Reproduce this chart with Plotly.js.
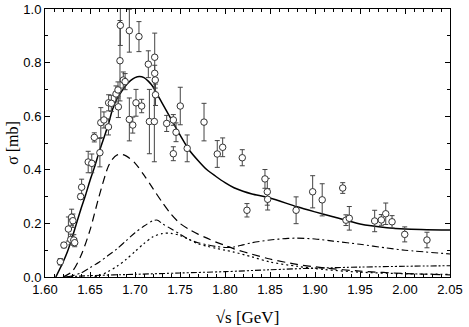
<!DOCTYPE html>
<html>
<head>
<meta charset="utf-8">
<script src="https://cdn.plot.ly/plotly-3.0.1.min.js"></script>
<style>html,body{margin:0;padding:0;background:#fff;}#chart{width:469px;height:327px;}</style>
</head>
<body>
<div id="chart"></div>
<script>
// Experimental data: sqrt(s) [GeV], sigma [mb], error [mb]
const dataE = [1.617,1.621,1.626,1.6286,1.6296,1.631,1.632,1.633,1.6396,1.6407,1.648,1.652,1.6548,1.661,1.662,1.6655,1.6705,1.6707,1.6737,1.6789,1.6811,1.6815,1.6833,1.6837,1.687,1.689,1.6937,1.6937,1.6975,1.7011,1.7044,1.7074,1.7148,1.716,1.7219,1.7219,1.7225,1.7228,1.7215,1.7352,1.7426,1.7426,1.7456,1.7503,1.758,1.7767,1.7914,1.7974,1.8192,1.8244,1.8444,1.847,1.8474,1.879,1.8974,1.908,1.9308,1.9344,1.9381,1.9663,1.9737,1.9786,1.9856,1.9997,2.0244];
const dataSigma = [0.057,0.119,0.179,0.14,0.223,0.21,0.138,0.128,0.30,0.335,0.429,0.424,0.521,0.464,0.576,0.586,0.56,0.65,0.648,0.683,0.698,0.635,0.807,0.939,0.735,0.729,0.919,0.588,0.567,0.65,0.897,0.638,0.794,0.58,0.82,0.76,0.735,0.68,0.58,0.573,0.586,0.46,0.54,0.638,0.48,0.578,0.459,0.484,0.445,0.249,0.366,0.318,0.29,0.249,0.318,0.288,0.332,0.212,0.219,0.209,0.213,0.236,0.206,0.159,0.138];
const dataErr = [0.012,0.01,0.045,0.02,0.03,0.025,0.02,0.015,0.01,0.03,0.04,0.035,0.017,0.053,0.056,0.03,0.03,0.03,0.03,0.03,0.03,0.04,0.15,0.075,0.03,0.03,0.08,0.08,0.03,0.05,0.056,0.025,0.05,0.12,0.09,0.03,0.03,0.04,0.15,0.03,0.02,0.026,0.035,0.07,0.05,0.07,0.05,0.035,0.03,0.025,0.035,0.05,0.04,0.05,0.06,0.06,0.02,0.02,0.044,0.04,0.02,0.04,0.023,0.028,0.029];

// Total (solid)
const totalE = [1.612,1.62,1.625,1.63,1.635,1.64,1.645,1.65,1.655,1.66,1.665,1.67,1.675,1.68,1.685,1.69,1.695,1.70,1.705,1.71,1.715,1.72,1.725,1.73,1.74,1.75,1.76,1.77,1.78,1.79,1.80,1.81,1.82,1.83,1.85,1.88,1.90,1.92,1.95,1.98,2.00,2.05];
const totalS = [0,0.055,0.095,0.145,0.2,0.255,0.305,0.36,0.41,0.465,0.515,0.565,0.625,0.665,0.692,0.715,0.733,0.744,0.748,0.744,0.73,0.71,0.68,0.65,0.59,0.53,0.475,0.435,0.4,0.375,0.352,0.333,0.32,0.31,0.295,0.262,0.243,0.225,0.198,0.184,0.179,0.175];

// Dashed component
const dashE = [1.62,1.63,1.64,1.65,1.66,1.67,1.675,1.68,1.685,1.69,1.70,1.71,1.72,1.73,1.74,1.75,1.76,1.77,1.78,1.79,1.80,1.81,1.83,1.85,1.88,1.91,1.95,2.00,2.05];
const dashS = [0,0.02,0.08,0.175,0.3,0.41,0.44,0.455,0.458,0.452,0.425,0.38,0.33,0.28,0.235,0.2,0.178,0.16,0.145,0.13,0.118,0.105,0.085,0.067,0.047,0.034,0.022,0.013,0.008];

// Dash-dot component
const dashDotE = [1.625,1.64,1.65,1.66,1.67,1.68,1.69,1.70,1.71,1.72,1.725,1.73,1.74,1.75,1.76,1.77,1.78,1.79,1.80,1.81,1.82,1.83,1.85,1.87,1.88,1.90,1.92,1.95,1.98,2.00,2.05];
const dashDotS = [0,0.015,0.035,0.055,0.08,0.105,0.135,0.165,0.19,0.21,0.212,0.2,0.18,0.16,0.14,0.128,0.12,0.114,0.11,0.112,0.12,0.128,0.138,0.144,0.145,0.142,0.134,0.122,0.108,0.1,0.086];

// Dotted component
const dotE = [1.655,1.66,1.67,1.68,1.69,1.70,1.71,1.72,1.73,1.74,1.75,1.76,1.77,1.78,1.79,1.80,1.81,1.83,1.85,1.88,1.91,1.95,2.00,2.05];
const dotS = [0,0.005,0.02,0.04,0.065,0.095,0.125,0.15,0.162,0.163,0.155,0.14,0.124,0.115,0.107,0.1,0.093,0.075,0.056,0.04,0.028,0.018,0.012,0.01];

// Dash-dot-dot component
const ddotE = [1.62,1.65,1.70,1.75,1.80,1.85,1.90,1.95,2.00,2.05];
const ddotS = [0,0.005,0.01,0.015,0.02,0.027,0.033,0.037,0.04,0.042];

const xTickVals = [1.60,1.65,1.70,1.75,1.80,1.85,1.90,1.95,2.00,2.05];
const yTickVals = [0.0,0.2,0.4,0.6,0.8,1.0];

function curve(x, y, dash, w) {
  return {x: x, y: y, type: 'scatter', mode: 'lines', hoverinfo: 'skip',
    line: {color: '#000', width: w, dash: dash, shape: 'spline', smoothing: 0.8}};
}

const traces = [
  curve(ddotE, ddotS, '6px,2px,2px,2px,2px,2px', 1.1),
  curve(dotE, dotS, '2px,3px', 1.2),
  curve(dashDotE, dashDotS, '7px,3px,2px,3px', 1.1),
  curve(dashE, dashS, '8px,5px', 1.2),
  curve(totalE, totalS, 'solid', 1.5),
  {x: dataE, y: dataSigma, type: 'scatter', mode: 'markers',
   error_y: {type: 'data', array: dataErr, visible: true, color: '#444', thickness: 1, width: 2.5},
   marker: {symbol: 'circle', size: 6.5, color: '#fff', line: {width: 1, color: '#333'}}}
];

const axisFont = {family: 'Liberation Sans, Arial, sans-serif', size: 13, color: '#000'};
const layout = {
  width: 469, height: 327,
  margin: {l: 45, r: 19, t: 9, b: 50},
  paper_bgcolor: '#fff', plot_bgcolor: 'rgba(0,0,0,0)',
  showlegend: false,
  xaxis: {
    range: [1.60, 2.05], tickvals: xTickVals, ticktext: xTickVals.map(v => v.toFixed(2)),
    ticks: 'inside', ticklen: 5, tickwidth: 1, tickcolor: '#000',
    minor: {dtick: 0.01, tick0: 1.60, ticks: 'inside', ticklen: 3, tickcolor: '#000', showgrid: false},
    showline: true, linecolor: '#000', linewidth: 1, mirror: 'ticks',
    showgrid: false, zeroline: false, tickfont: axisFont,
    title: {text: '√s [GeV]', font: {family: 'Liberation Serif, Times New Roman, serif', size: 17, color: '#000'}, standoff: 16}
  },
  yaxis: {
    range: [0, 1.0], tickvals: yTickVals, ticktext: yTickVals.map(v => v.toFixed(1)),
    ticks: 'inside', ticklen: 5, tickwidth: 1, tickcolor: '#000',
    minor: {dtick: 0.1, tick0: 0, ticks: 'inside', ticklen: 3, tickcolor: '#000', showgrid: false},
    showline: true, linecolor: '#000', linewidth: 1, mirror: 'ticks',
    showgrid: false, zeroline: false, tickfont: axisFont,
    title: {text: 'σ [mb]', font: {family: 'Liberation Serif, Times New Roman, serif', size: 16, color: '#000'}, standoff: 0}
  }
};

Plotly.newPlot('chart', traces, layout, {displayModeBar: false, staticPlot: true});
</script>
</body>
</html>
